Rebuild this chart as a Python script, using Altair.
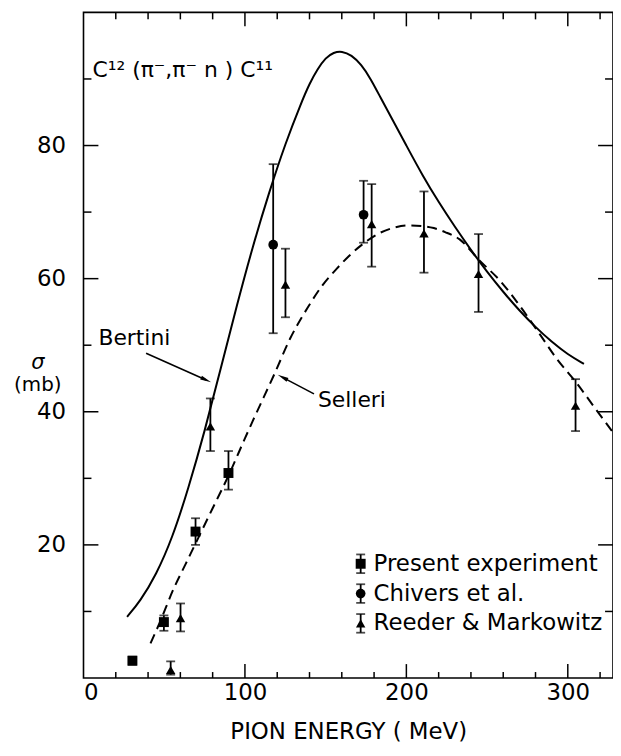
import math
import altair as alt
import pandas as pd

# ---------------- data ----------------
series_names = ["Present experiment", "Chivers et al.", "Reeder & Markowitz"]

present_e = [30.3, 49.8, 69.4, 89.8]
present_s = [2.6, 8.4, 22.0, 30.8]
present_lo = [2.0, 7.1, 20.0, 28.3]
present_hi = [3.2, 9.4, 24.0, 34.1]

chivers_e = [117.5, 173.5]
chivers_s = [65.1, 69.6]
chivers_lo = [51.8, 65.4]
chivers_hi = [77.2, 74.7]

reeder_e = [54.0, 60.1, 78.6, 125.1, 178.5, 210.9, 244.7, 304.8]
reeder_s = [1.2, 9.0, 37.8, 59.1, 68.2, 66.8, 60.7, 40.9]
reeder_lo = [0.5, 7.0, 34.1, 54.2, 61.8, 60.9, 55.0, 37.1]
reeder_hi = [2.5, 11.2, 42.0, 64.5, 74.2, 73.1, 66.7, 44.9]

bertini_e = [27, 35, 45, 55, 65, 75, 85, 95, 105, 115, 125, 135, 140, 145, 150, 155, 160,
             166, 172, 178, 184, 190, 200, 210, 220, 230, 240, 250, 260, 270, 280, 290,
             300, 310]
bertini_s = [9.2, 11.5, 15.5, 21.0, 28.5, 37.0, 46.5, 56.0, 65.0, 73.0, 80.3, 86.5, 89.3,
             91.5, 93.2, 94.0, 94.2, 93.6, 92.2, 90.0, 87.2, 84.5, 80.0, 75.5, 71.5, 67.8,
             64.3, 61.0, 58.0, 55.2, 52.7, 50.5, 48.6, 47.2]

selleri_e = [41.5, 47, 56, 63, 70, 80, 90, 100, 105, 118.5, 128, 139, 148, 156.5, 164,
             173, 183, 193, 201, 210, 217, 224, 233, 245, 258, 270, 282.5, 293, 305.5,
             317, 328]
selleri_s = [5.2, 8.2, 13.5, 17, 20.5, 25.5, 30.5, 36, 38.7, 45.8, 51, 55.7, 59, 61.4,
             63.3, 65.2, 66.8, 67.7, 68, 67.9, 67.6, 67, 65.9, 62.8, 59.7, 56, 51.7, 48,
             44.3, 40.5, 36.9]

x_labels = [0, 100, 200, 300]
y_labels = [20, 40, 60, 80]
x_minor = [20, 40, 60, 80, 120, 140, 160, 180, 220, 240, 260, 280, 320]
x_major = [100, 200, 300]
y_minor = [10, 30, 50, 70, 90]
y_major = [20, 40, 60, 80]

# ---------------- layout ----------------
W, H = 533, 670
X_MAX, Y_MAX = 328.0, 100.0
FONT = "DejaVu Sans"


def px_to_data(px, py):
    # px, py measured relative to the plot origin (top-left of plot area)
    return px / W * X_MAX, (H - py) / H * Y_MAX


xs = alt.Scale(domain=[0, X_MAX], nice=False, zero=False)
ys = alt.Scale(domain=[0, Y_MAX], nice=False, zero=False)
x_axis = alt.Axis(values=x_labels, tickSize=0, domain=False, grid=False, labelFontSize=23,
                  labelPadding=4, labelFont=FONT, labelColor="black",
                  title="PION  ENERGY ( MeV)", titleFont=FONT, titleFontSize=23,
                  titleFontWeight="normal", titlePadding=16, titleColor="black")
y_axis = alt.Axis(values=y_labels, tickSize=0, domain=False, grid=False, labelFontSize=23,
                  labelPadding=18, labelFont=FONT, labelColor="black", title="")


def X(field):
    return alt.X(field, type="quantitative", scale=xs, axis=x_axis)


def Y(field):
    return alt.Y(field, type="quantitative", scale=ys, axis=y_axis)


def Y2(field):
    return alt.Y2(field)


# ---------------- tables ----------------
def sdf(name, e, s, lo, hi):
    return pd.DataFrame({"series": name, "e": e, "s": s, "lo": lo, "hi": hi})


pts = pd.concat([
    sdf(series_names[0], present_e, present_s, present_lo, present_hi),
    sdf(series_names[1], chivers_e, chivers_s, chivers_lo, chivers_hi),
    sdf(series_names[2], reeder_e, reeder_s, reeder_lo, reeder_hi),
], ignore_index=True)

bert = pd.DataFrame({"e": bertini_e, "s": bertini_s})
sell = pd.DataFrame({"e": selleri_e, "s": selleri_s})

shape_scale = alt.Scale(domain=series_names, range=["square", "circle", "triangle-up"])
size_scale = alt.Scale(domain=series_names, range=[100, 90, 130])

# legend entries (positions in plot pixels converted to data units)
leg_rows = []
for i, name in enumerate(series_names):
    mx, my = px_to_data(279, 555 + 30 * i)
    tx, _ = px_to_data(292, 0)
    leg_rows.append({"series": name, "e": mx, "s": my, "lo": my - 1.4, "hi": my + 1.4, "te": tx})
leg = pd.DataFrame(leg_rows)

# ---------------- layers ----------------
bertini_line = alt.Chart(bert).mark_line(color="black", strokeWidth=2, interpolate="basis").encode(
    x=X("e"), y=Y("s"))
selleri_line = alt.Chart(sell).mark_line(color="black", strokeWidth=2, strokeDash=[10, 6],
                                         interpolate="monotone").encode(x=X("e"), y=Y("s"))


def err_layers(df):
    bars = alt.Chart(df).mark_rule(color="black", strokeWidth=1.8).encode(
        x=X("e"), y=Y("lo"), y2=Y2("hi"))
    cap_lo = alt.Chart(df).mark_tick(color="black", orient="horizontal", size=9, thickness=1.8).encode(
        x=X("e"), y=Y("lo"))
    cap_hi = alt.Chart(df).mark_tick(color="black", orient="horizontal", size=9, thickness=1.8).encode(
        x=X("e"), y=Y("hi"))
    marks = alt.Chart(df).mark_point(filled=True, color="black", opacity=1).encode(
        x=X("e"), y=Y("s"),
        shape=alt.Shape("series:N", scale=shape_scale, legend=None),
        size=alt.Size("series:N", scale=size_scale, legend=None))
    return [bars, cap_lo, cap_hi, marks]


leg_text = alt.Chart(leg).mark_text(align="left", baseline="middle", font=FONT, fontSize=23,
                                    color="black").encode(x=X("te"), y=Y("s"), text="series:N")

# annotations
tx, ty = px_to_data(9, 58)
bx, by = px_to_data(15, 328)
sx, sy = px_to_data(236, 390)
ann = pd.DataFrame([
    {"e": tx, "s": ty, "t": "C\u00b9\u00b2 (\u03c0\u207b,\u03c0\u207b n ) C\u00b9\u00b9", "f": 22},
    {"e": bx, "s": by, "t": "Bertini", "f": 22},
    {"e": sx, "s": sy, "t": "Selleri", "f": 22},
])
ann_text = alt.Chart(ann).mark_text(align="left", baseline="middle", font=FONT, color="black").encode(
    x=X("e"), y=Y("s"), text="t:N", size=alt.Size("f:Q", scale=None, legend=None))

sigma = alt.Chart(ann.head(1)).mark_text(font=FONT, fontSize=21, fontStyle="italic", color="black").encode(
    x=alt.value(-46), y=alt.value(353), text=alt.value("\u03c3"))
mb = alt.Chart(ann.head(1)).mark_text(font=FONT, fontSize=20, color="black").encode(
    x=alt.value(-46), y=alt.value(375), text=alt.value("(mb)"))

# arrows (pixel positions relative to the plot origin)
arrows = [((63, 343), (128, 372)), ((232, 384), (196, 365))]
arr_rows, head_rows = [], []
for k, ((x0, y0), (x1, y1)) in enumerate(arrows):
    dx, dy = x1 - x0, y1 - y0
    L = math.hypot(dx, dy)
    ang = math.degrees(math.atan2(dx, -dy)) % 360
    for (px, py) in [(x0, y0), (x1 - 5 * dx / L, y1 - 5 * dy / L)]:
        e, s = px_to_data(px, py)
        arr_rows.append({"k": k, "e": e, "s": s})
    he, hs = px_to_data(x1 - 6 * dx / L, y1 - 6 * dy / L)
    head_rows.append({"e": he, "s": hs, "a": ang})
arr_df = pd.DataFrame(arr_rows)
head_df = pd.DataFrame(head_rows)
arrow_lines = alt.Chart(arr_df).mark_line(color="black", strokeWidth=1.6).encode(
    x=X("e"), y=Y("s"), detail="k:N")
arrow_heads = alt.Chart(head_df).mark_point(filled=True, color="black", opacity=1, size=170,
                                            shape="M0,-1L0.32,0.7L-0.32,0.7Z").encode(
    x=X("e"), y=Y("s"), angle=alt.Angle("a:Q", scale=None))

# frame ticks (inward)
xmaj = pd.DataFrame({"v": x_major})
xmin = pd.DataFrame({"v": x_minor})
ymaj = pd.DataFrame({"v": y_major})
ymin = pd.DataFrame({"v": y_minor})


def rule(df):
    return alt.Chart(df).mark_rule(color="black", strokeWidth=1.5)


ticks = [
    rule(xmaj).encode(x=X("v"), y=alt.value(H), y2=alt.value(H - 14)),
    rule(xmin).encode(x=X("v"), y=alt.value(H), y2=alt.value(H - 6)),
    rule(xmaj).encode(x=X("v"), y=alt.value(0), y2=alt.value(14)),
    rule(xmin).encode(x=X("v"), y=alt.value(0), y2=alt.value(7)),
    rule(ymaj).encode(y=Y("v"), x=alt.value(0), x2=alt.value(15)),
    rule(ymin).encode(y=Y("v"), x=alt.value(0), x2=alt.value(8)),
    rule(ymaj).encode(y=Y("v"), x=alt.value(W), x2=alt.value(W - 15)),
    rule(ymin).encode(y=Y("v"), x=alt.value(W), x2=alt.value(W - 8)),
]

layers = ([bertini_line, selleri_line] + err_layers(pts) + err_layers(leg) + [leg_text, ann_text, sigma, mb,
          arrow_lines, arrow_heads] + ticks)

chart = alt.layer(*layers).properties(
    width=W, height=H,
    autosize=alt.AutoSizeParams(type="none"),
    padding={"left": 76, "top": 2, "right": 0, "bottom": 66},
    background="white",
).configure_view(stroke="black", strokeWidth=1.6)

chart.save("out.html", embed_options={"renderer": "svg", "actions": False})
